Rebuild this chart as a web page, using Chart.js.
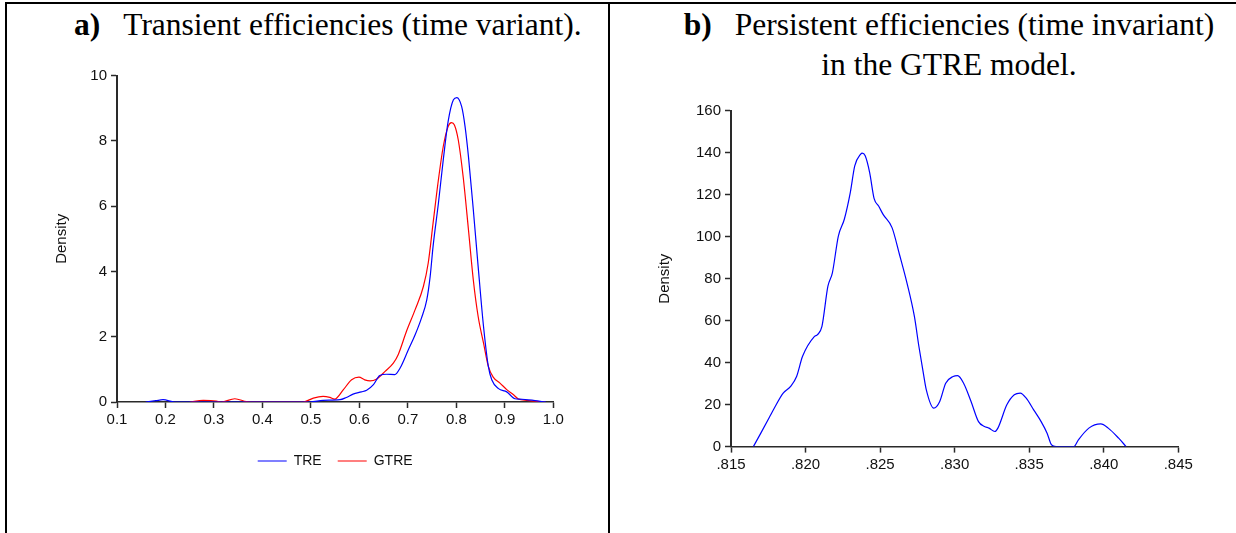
<!DOCTYPE html>
<html lang="en">
<head>
  <meta charset="UTF-8">
  <title>Transient and persistent efficiencies</title>
  <script src="https://cdn.jsdelivr.net/npm/chart.js"></script>
  <style>
    html, body { margin: 0; padding: 0; background: #fff; }
    #page { position: relative; width: 1236px; height: 533px; overflow: hidden; }
    .rule { position: absolute; background: #000; }
    .title { position: absolute; font-family: "Liberation Serif", "Times New Roman", serif; font-size: 31.5px; line-height: 40px; white-space: nowrap; color: #000; }
    .gap { display: inline-block; width: 23px; }
    canvas { position: absolute; top: 0; }
  </style>
</head>
<body>
<div id="page">
  <div class="rule" style="left:5px; top:2px; width:1231px; height:2px"></div>
  <div class="rule" style="left:5px; top:2px; width:2px; height:531px"></div>
  <div class="rule" style="left:608px; top:2px; width:2px; height:531px"></div>

  <div class="title" style="left:74px; top:5px"><b>a)</b><span class="gap"></span>Transient efficiencies (time variant).</div>
  <div class="title" style="left:649px; top:5px; width:600px; text-align:center"><b>b)</b><span class="gap"></span>Persistent efficiencies (time invariant)<br>in the GTRE model.</div>

  <canvas id="chartA" width="605" height="533" style="left:0"></canvas>
  <canvas id="chartB" width="624" height="533" style="left:612px"></canvas>
</div>

<script>
  // panel a) kernel densities of transient efficiency
  const treX = [0.159, 0.18, 0.195, 0.219, 0.30, 0.40, 0.498, 0.525, 0.560, 0.573, 0.587, 0.604, 0.615, 0.629, 0.642, 0.656,
    0.673, 0.684, 0.701, 0.715, 0.728, 0.739, 0.746, 0.752, 0.763, 0.773, 0.783, 0.794, 0.801, 0.811, 0.818, 0.825,
    0.835, 0.845, 0.856, 0.866, 0.873, 0.887, 0.904, 0.921, 0.931, 0.959, 0.973, 0.985];
  const treY = [0, 0.04, 0.07, 0, 0, 0, 0, 0.05, 0.07, 0.14, 0.24, 0.31, 0.36, 0.53, 0.81, 0.85,
    0.84, 1.04, 1.6, 2.06, 2.57, 3.13, 3.85, 4.77, 6.09, 7.42, 8.59, 9.26, 9.33, 9.05, 8.44, 7.52,
    5.89, 4.15, 2.32, 1.09, 0.68, 0.41, 0.31, 0.10, 0.09, 0.05, 0.02, 0];

  const gtreX = [0.25, 0.278, 0.305, 0.315, 0.343, 0.367, 0.377, 0.484, 0.505, 0.525, 0.539, 0.549, 0.567, 0.584, 0.599,
    0.611, 0.622, 0.635, 0.653, 0.670, 0.680, 0.697, 0.715, 0.732, 0.742, 0.752, 0.763, 0.773, 0.783, 0.790, 0.796,
    0.804, 0.814, 0.825, 0.835, 0.845, 0.856, 0.866, 0.876, 0.890, 0.904, 0.918, 0.928, 0.945, 0.966, 0.983];
  const gtreY = [0, 0.05, 0.03, 0, 0.10, 0.01, 0, 0, 0.12, 0.17, 0.14, 0.09, 0.38, 0.68, 0.76,
    0.68, 0.65, 0.70, 0.94, 1.19, 1.45, 2.16, 2.83, 3.54, 4.26, 5.48, 6.81, 7.83, 8.44, 8.56, 8.49,
    8.03, 6.91, 5.28, 3.74, 2.62, 1.81, 1.09, 0.76, 0.58, 0.38, 0.22, 0.09, 0.05, 0.02, 0];

  const xTicksA = [0.1, 0.2, 0.3, 0.4, 0.5, 0.6, 0.7, 0.8, 0.9, 1.0];
  const yTicksA = [0, 2, 4, 6, 8, 10];

  // panel b) persistent efficiency, GTRE model
  const persX = [0.8165, 0.8170, 0.8176, 0.8179, 0.8185, 0.8190, 0.8194, 0.8198, 0.8206, 0.8208, 0.8211, 0.8215, 0.8218,
    0.8222, 0.8226, 0.8230, 0.8233, 0.8237, 0.8238, 0.8240, 0.8243, 0.8246, 0.8249, 0.8252, 0.8258, 0.8263, 0.8268,
    0.8273, 0.8276, 0.8279, 0.8281, 0.8286, 0.8290, 0.8294, 0.8299, 0.8302, 0.8306, 0.8311, 0.8316, 0.8320, 0.8323,
    0.8327, 0.8329, 0.8335, 0.8340, 0.8344, 0.8348, 0.8353, 0.8358, 0.8362, 0.8365, 0.8368, 0.8380, 0.8383, 0.8390,
    0.8398, 0.8403, 0.8410, 0.8415];
  const persY = [0, 6.4, 14.3, 18.3, 25.5, 28.7, 33.4, 43, 52.5, 53.3, 57.3, 76.4, 82.8,
    100.3, 108.3, 121, 133.7, 139.3, 139.8, 138.5, 130.5, 118.1, 114.6, 110.6, 104.3, 91.5, 78,
    62, 47.8, 35, 27, 18.3, 21.5, 30.2, 33.4, 33.8, 30.2, 21.5, 11.9, 9.6, 8.8,
    7.2, 8.8, 19.9, 24.7, 25.5, 23.1, 17.5, 11.9, 6.4, 0.8, 0, 0, 3.2, 8.8,
    10.8, 8.8, 4, 0];

  const xTicksB = [0.815, 0.820, 0.825, 0.830, 0.835, 0.840, 0.845];
  const yTicksB = [0, 20, 40, 60, 80, 100, 120, 140, 160];

  const family = "'Liberation Sans', Arial, sans-serif";
  const axisColor = '#2a2a2a';
  const textColor = '#111';

  function pts(xs, ys) {
    return xs.map((x, i) => ({ x: x, y: ys[i] }));
  }

  function makeAxes(opt) {
    return {
      x: {
        type: 'linear', min: opt.xMin, max: opt.xMax,
        afterBuildTicks: s => { s.ticks = opt.xTicks.map(v => ({ value: v })); },
        afterFit: s => { s.height = opt.xHeight; },
        grid: { drawOnChartArea: false, drawTicks: true, tickLength: 6, tickColor: axisColor, tickWidth: 1.5 },
        border: { color: axisColor, width: 1.5 },
        ticks: { color: textColor, font: { family: family, size: opt.fontSize }, padding: 3, maxRotation: 0, autoSkip: false,
          callback: opt.xFormat }
      },
      y: {
        type: 'linear', min: opt.yMin, max: opt.yMax,
        afterBuildTicks: s => { s.ticks = opt.yTicks.map(v => ({ value: v })); },
        afterFit: s => { s.width = opt.yWidth; },
        grid: { drawOnChartArea: false, drawTicks: true, tickLength: 6, tickColor: axisColor, tickWidth: 1.5 },
        border: { color: axisColor, width: 2 },
        ticks: { color: textColor, font: { family: family, size: opt.fontSize }, padding: 4, autoSkip: false },
        title: { display: true, text: 'Density', color: textColor, font: { family: family, size: opt.fontSize },
          padding: { top: opt.titlePad, bottom: 0 } }
      }
    };
  }

  new Chart(document.getElementById('chartA'), {
    type: 'line',
    data: {
      datasets: [
        { label: 'TRE', data: pts(treX, treY), borderColor: '#0000ff', backgroundColor: '#0000ff',
          borderWidth: 1.2, pointRadius: 0, tension: 0.4, cubicInterpolationMode: 'monotone' },
        { label: 'GTRE', data: pts(gtreX, gtreY), borderColor: '#ff0000', backgroundColor: '#ff0000',
          borderWidth: 1.2, pointRadius: 0, tension: 0.4, cubicInterpolationMode: 'monotone' }
      ]
    },
    options: {
      responsive: false,
      animation: false,
      layout: { padding: { left: 50, right: 51.7, top: 75.7, bottom: 55 } },
      scales: makeAxes({
        xMin: 0.1, xMax: 1.0, xTicks: xTicksA, yMin: 0, yMax: 10, yTicks: yTicksA,
        xHeight: 36, yWidth: 67, fontSize: 15, titlePad: 3,
        xFormat: v => Number(v).toFixed(1)
      }),
      plugins: {
        tooltip: { enabled: false },
        legend: {
          position: 'bottom', fullSize: false,
          labels: { usePointStyle: true, pointStyle: 'line', pointStyleWidth: 29, padding: 16,
            color: textColor, font: { family: family, size: 14 } }
        }
      }
    }
  });

  new Chart(document.getElementById('chartB'), {
    type: 'line',
    data: {
      datasets: [
        { label: 'Persistent', data: pts(persX, persY), borderColor: '#0000ff', backgroundColor: '#0000ff',
          borderWidth: 1.2, pointRadius: 0, tension: 0.4, cubicInterpolationMode: 'monotone' }
      ]
    },
    options: {
      responsive: false,
      animation: false,
      layout: { padding: { left: 40, right: 57.7, top: 110.7, bottom: 46.4 } },
      scales: makeAxes({
        xMin: 0.815, xMax: 0.845, xTicks: xTicksB, yMin: 0, yMax: 160, yTicks: yTicksB,
        xHeight: 40, yWidth: 79, fontSize: 15, titlePad: 3.5,
        xFormat: v => Number(v).toFixed(3).replace(/^0/, '')
      }),
      plugins: {
        tooltip: { enabled: false },
        legend: { display: false }
      }
    }
  });
</script>
</body>
</html>
